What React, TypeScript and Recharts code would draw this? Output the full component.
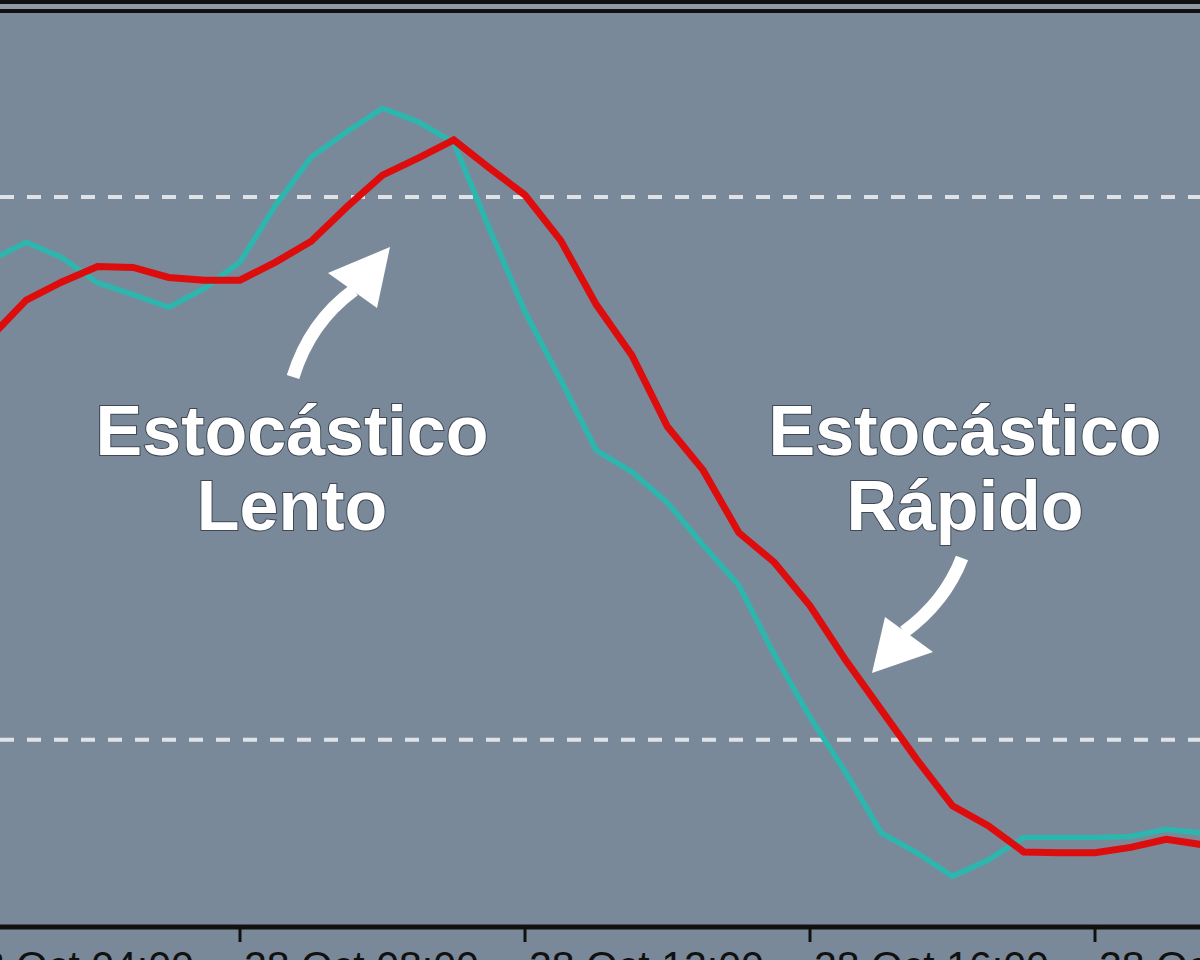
import { LineChart, Line, XAxis, YAxis, ReferenceLine } from 'recharts';

// 30-minute steps, 28 Oct
const hours = [
  4.5, 5, 5.5, 6, 6.5, 7, 7.5, 8, 8.5, 9, 9.5, 10, 10.5, 11, 11.5, 12, 12.5, 13,
  13.5, 14, 14.5, 15, 15.5, 16, 16.5, 17, 17.5, 18, 18.5, 19, 19.5, 20, 20.5, 21, 21.5,
];

// %K (teal, fast)
const kLine = [
  73.0, 75.0, 73.3, 70.5, 69.2, 67.8, 69.9, 72.8, 79.1, 84.4, 87.2, 89.8, 88.3, 86.0,
  76.5, 67.3, 59.8, 52.0, 49.6, 46.2, 41.5, 37.1, 29.4, 22.5, 16.4, 9.7, 7.5, 4.9,
  6.7, 9.2, 9.2, 9.2, 9.3, 10.1, 9.7,
];

// %D (red, slow)
const dLine = [
  64.5, 68.6, 70.6, 72.3, 72.2, 71.1, 70.8, 70.8, 72.8, 75.1, 78.9, 82.4, 84.3, 86.3,
  83.2, 80.2, 75.2, 68.1, 62.5, 54.6, 49.8, 42.9, 39.6, 34.8, 28.8, 23.3, 17.8, 12.7,
  10.5, 7.6, 7.5, 7.5, 8.1, 9.0, 8.4,
];

const timeTicks = [4, 8, 12, 16, 20];
const levels = [80, 20];

const data = hours.map((h, i) => ({ h, k: kLine[i], d: dLine[i] }));

const BG = '#7a8999';
const FONT = "'Liberation Sans', Arial, Helvetica, sans-serif";

function TimeTick({ x, y, payload }: any) {
  const hh = String(payload.value).padStart(2, '0');
  return (
    <text x={x + 4} y={y} dy={38} textAnchor="start" fontSize={41} fill="#111" fontFamily={FONT}>
      {`28 Oct ${hh}:00`}
    </text>
  );
}

function Label({ x, lines }: { x: number; lines: string[] }) {
  return (
    <text
      x={x}
      textAnchor="middle"
      fontFamily={FONT}
      fontWeight="bold"
      fontSize={70}
      fill="#fff"
      stroke="#3e4854"
      strokeWidth={2}
      paintOrder="stroke"
    >
      {lines.map((l, i) => (
        <tspan key={l} x={x} y={455 + i * 75}>
          {l}
        </tspan>
      ))}
    </text>
  );
}

export default function App() {
  return (
    <div style={{ position: 'absolute', left: 0, top: 0, width: 1200, height: 960, background: BG, overflow: 'hidden' }}>
      <LineChart width={1200} height={960} data={data} margin={{ top: 16, right: 0, bottom: 0, left: 0 }}>
        <XAxis
          dataKey="h"
          type="number"
          domain={[4.6316, 21.4737]}
          allowDataOverflow
          ticks={timeTicks}
          interval={0}
          height={33}
          axisLine={{ stroke: '#111', strokeWidth: 5 }}
          tickLine={{ stroke: '#111', strokeWidth: 3 }}
          tickSize={15}
          tickMargin={0}
          tick={<TimeTick />}
        />
        <YAxis hide domain={[-0.7, 100]} allowDataOverflow />
        {levels.map((v) => (
          <ReferenceLine key={v} y={v} stroke="#dfe3e8" strokeWidth={4} strokeDasharray="14 13" />
        ))}
        <Line
          dataKey="k"
          type="linear"
          stroke="#2db6ae"
          strokeWidth={5.5}
          dot={false}
          isAnimationActive={false}
        />
        <Line
          dataKey="d"
          type="linear"
          stroke="#dd0d0d"
          strokeWidth={7}
          dot={false}
          isAnimationActive={false}
        />
      </LineChart>
      <svg width={1200} height={960} style={{ position: 'absolute', left: 0, top: 0, pointerEvents: 'none' }}>
        <rect x={0} y={0} width={1200} height={4} fill="#111" />
        <rect x={0} y={4} width={1200} height={5} fill="#8e9aa6" />
        <rect x={0} y={9} width={1200} height={4} fill="#111" />
        {/* arrow to slow line */}
        <path d="M 293 377 Q 310 322 354 290" fill="none" stroke="#fff" strokeWidth={13} />
        <polygon points="390,247 328,273 377,308" fill="#fff" />
        {/* arrow to fast line */}
        <path d="M 962 558 Q 945 602 904 632" fill="none" stroke="#fff" strokeWidth={13} />
        <polygon points="872,673 885,617 933,652" fill="#fff" />
        <Label x={292} lines={['Estocástico', 'Lento']} />
        <Label x={965} lines={['Estocástico', 'Rápido']} />
      </svg>
    </div>
  );
}
